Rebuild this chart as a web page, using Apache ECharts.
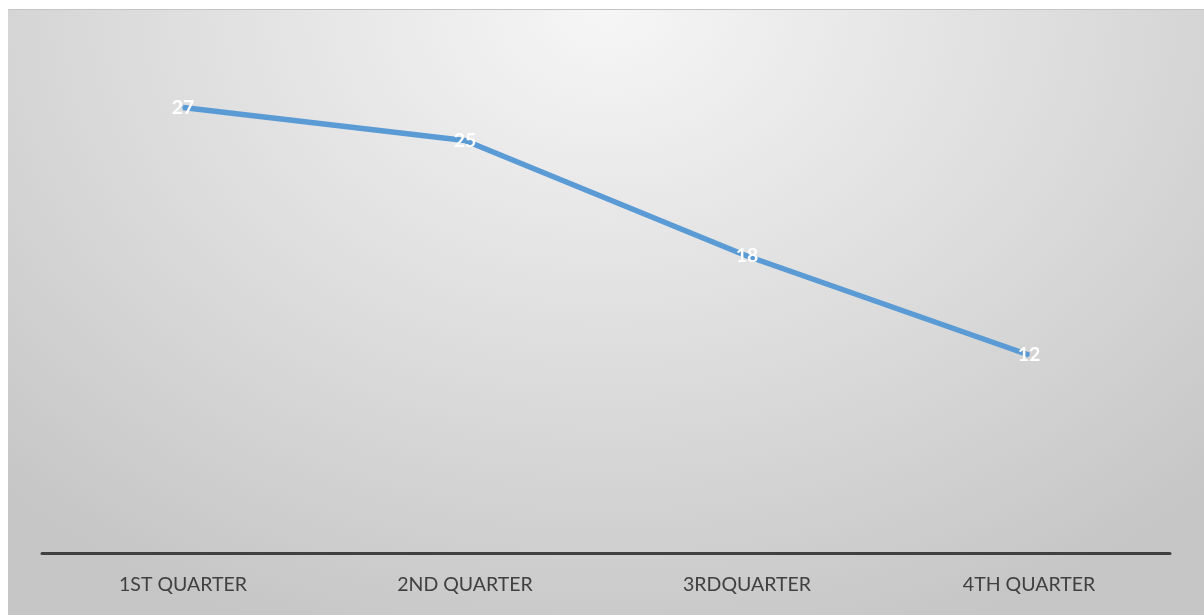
<!DOCTYPE html>
<html>
<head>
<meta charset="utf-8">
<script src="https://cdn.jsdelivr.net/npm/echarts@6/dist/echarts.min.js"></script>
<style>
html,body{margin:0;padding:0;background:#fff;}
#chart{position:absolute;left:8px;top:9px;width:1196px;height:606px;
background:radial-gradient(ellipse 72% 110% at 50% 0%, #f6f6f6 0%, #dcdcdc 55%, #c6c6c6 100%);
box-shadow: inset 0 1px 0 #c4c4c4;}
</style>
</head>
<body>
<div id="chart"></div>
<script>
const categories = ['1ST QUARTER', '2ND QUARTER', '3RDQUARTER', '4TH QUARTER'];
const values = [27, 25, 18, 12];

const chart = echarts.init(document.getElementById('chart'), null, {renderer: 'canvas'});
chart.setOption({
  backgroundColor: 'transparent',
  animation: false,
  grid: {left: 34, right: 34, top: 49, bottom: 62, containLabel: false},
  xAxis: {
    type: 'category',
    data: categories,
    boundaryGap: true,
    axisLine: {show: true, lineStyle: {color: '#404040', width: 3}},
    axisTick: {show: false},
    axisLabel: {color: '#404040', fontSize: 19.5, fontFamily: 'Lato, "Open Sans", sans-serif', margin: 22}
  },
  yAxis: {
    type: 'value', min: 0, max: 30,
    show: false,
    splitLine: {show: false}
  },
  series: [{
    type: 'line',
    data: values,
    symbol: 'circle',
    symbolSize: 2,
    itemStyle: {color: '#5B9BD5'},
    lineStyle: {color: '#5B9BD5', width: 5.5},
    label: {
      show: true, position: 'inside',
      color: '#ffffff', fontSize: 19.5, fontWeight: 'bold',
      fontFamily: 'Lato, "Open Sans", sans-serif'
    }
  }]
});
</script>
</body>
</html>
